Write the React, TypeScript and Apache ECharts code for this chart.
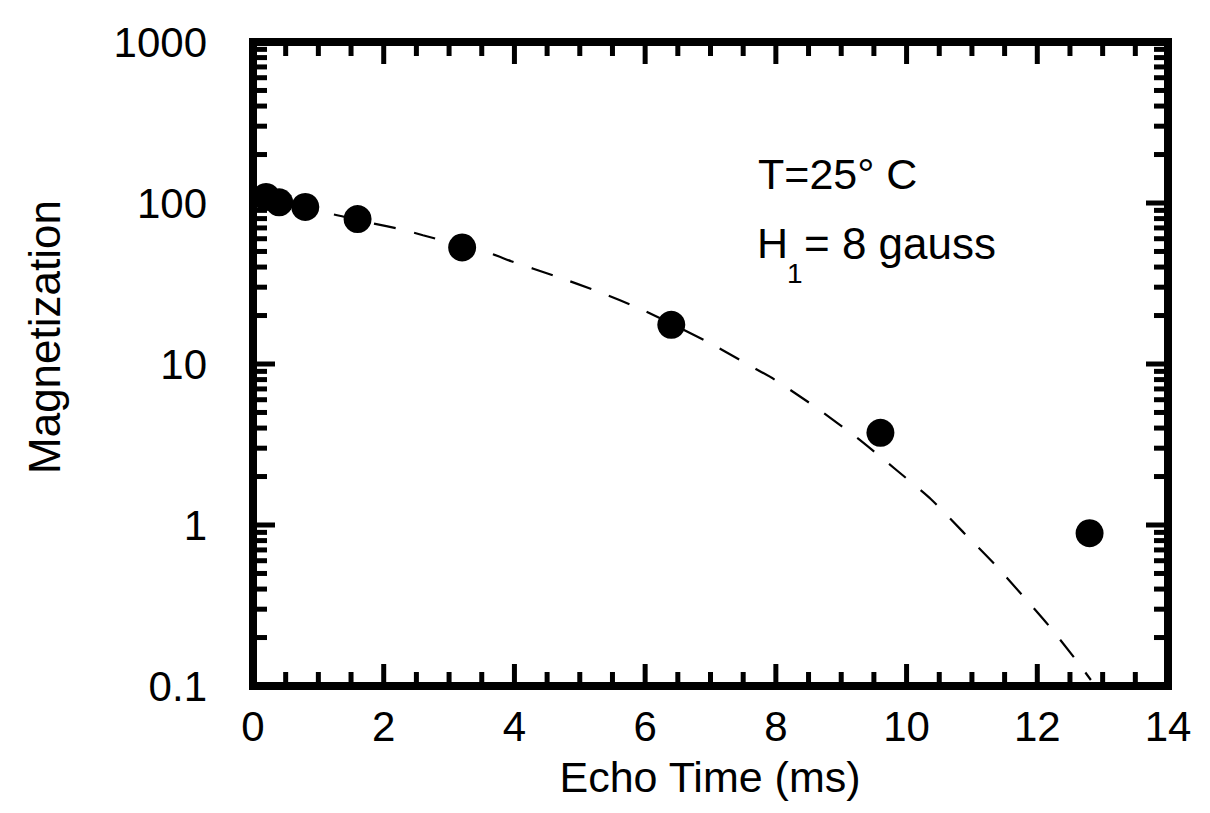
import React, { useEffect, useRef } from "react";
import * as echarts from "echarts";

// Measured spin-echo data
const echoTimes = [0.2, 0.4, 0.8, 1.6, 3.2, 6.4, 9.6, 12.8];
const magnetization = [109, 101, 94.5, 79.5, 53, 17.5, 3.74, 0.89];

// Dashed fit curve
const fitTimes = [0, 0.5, 1.01, 1.22, 1.82, 2.26, 2.6, 3.62, 3.95, 4.63, 5.27, 5.94, 6.93, 7.62, 7.97, 8.63, 9.25, 9.83, 10.37, 10.87, 11.33, 11.77, 12.18, 12.56, 12.82];
const fitValues = [100, 96, 87.5, 85.1, 74.9, 68.7, 63.1, 48.8, 43.5, 35.1, 28.3, 21.9, 13.9, 9.68, 8.05, 5.32, 3.46, 2.22, 1.45, 0.9, 0.58, 0.367, 0.236, 0.151, 0.109];

// Axes
const xMin = 0;
const xMax = 14;
const xInterval = 2;
const xMinorStep = 0.5;
const yMin = 0.1;
const yMax = 1000;
const yTickLabels = ["0.1", "1", "10", "100", "1000"];
const yDecades = [0.1, 1, 10, 100];
const yMinorMultipliers = [2, 3, 4, 5, 6, 7, 8, 9];

const xTitle = "Echo Time (ms)";
const yTitle = "Magnetization";
const noteTemp = "T=25° C";
const noteFieldMain = "H";
const noteFieldSub = "1";
const noteFieldRest = "= 8 gauss";

const FONT = "'Liberation Sans', Arial, Helvetica, sans-serif";

export default function App() {
  const ref = useRef<HTMLDivElement>(null);

  useEffect(() => {
    if (!ref.current) return;
    const chart = echarts.init(ref.current, null, { renderer: "svg" });

    const majorLen = 22;
    const minorLen = 14;
    const tickWidth = 5;

    // tick positions (value, isMajor)
    const xTickData: number[][] = [];
    const nX = Math.round((xMax - xMin) / xMinorStep);
    for (let i = 1; i < nX; i++) {
      const v = parseFloat((xMin + i * xMinorStep).toFixed(3));
      const major = Math.abs(v / xInterval - Math.round(v / xInterval)) < 1e-6 ? 1 : 0;
      xTickData.push([v, major]);
    }
    const yTickData: number[][] = [];
    yDecades.forEach((d, di) => {
      if (di > 0) yTickData.push([d, 1]);
      yMinorMultipliers.forEach((m) => yTickData.push([parseFloat((d * m).toPrecision(3)), 0]));
    });

    const labelFor = (v: number) => {
      let best = yTickLabels[0];
      let bd = Infinity;
      yTickLabels.forEach((s) => {
        const d = Math.abs(Math.log10(parseFloat(s)) - Math.log10(v));
        if (d < bd) {
          bd = d;
          best = s;
        }
      });
      return best;
    };

    const st = { stroke: "#000", lineWidth: tickWidth };

    const option: any = {
      animation: false,
      backgroundColor: "#fff",
      grid: {
        left: 253,
        right: 42,
        top: 42,
        bottom: 127,
        show: true,
        borderColor: "#000",
        borderWidth: 8,
        backgroundColor: "transparent",
      },
      xAxis: {
        type: "value",
        min: xMin,
        max: xMax,
        interval: xInterval,
        axisLine: { show: false },
        splitLine: { show: false },
        axisTick: { show: false },
        axisLabel: {
          show: true,
          color: "#000",
          fontFamily: FONT,
          fontSize: 42,
          margin: 19,
        },
      },
      yAxis: {
        type: "log",
        logBase: 10,
        min: yMin,
        max: yMax,
        axisLine: { show: false },
        splitLine: { show: false },
        axisTick: { show: false },
        axisLabel: {
          show: true,
          color: "#000",
          fontFamily: FONT,
          fontSize: 42,
          margin: 46,
          formatter: (v: number) => labelFor(v),
        },
      },
      graphic: [
        {
          type: "text",
          x: 44,
          y: 337,
          rotation: Math.PI / 2,
          style: {
            text: yTitle,
            font: `44px ${FONT}`,
            fill: "#000",
            align: "center",
            verticalAlign: "middle",
          },
        },
        {
          type: "text",
          x: 710,
          y: 777,
          style: {
            text: xTitle,
            font: `43px ${FONT}`,
            fill: "#000",
            align: "center",
            verticalAlign: "middle",
          },
        },
        {
          type: "text",
          x: 758,
          y: 174,
          style: { text: noteTemp, font: `43px ${FONT}`, fill: "#000", align: "left", verticalAlign: "middle" },
        },
        {
          type: "text",
          x: 757,
          y: 243,
          style: { text: noteFieldMain, font: `43px ${FONT}`, fill: "#000", align: "left", verticalAlign: "middle" },
        },
        {
          type: "text",
          x: 787,
          y: 273,
          style: { text: noteFieldSub, font: `28px ${FONT}`, fill: "#000", align: "left", verticalAlign: "middle" },
        },
        {
          type: "text",
          x: 804,
          y: 243,
          style: { text: noteFieldRest, font: `44px ${FONT}`, fill: "#000", align: "left", verticalAlign: "middle" },
        },
      ],
      series: [
        {
          type: "custom",
          silent: true,
          data: xTickData,
          renderItem: (params: any, api: any) => {
            const v = api.value(0);
            const len = api.value(1) ? majorLen : minorLen;
            const b = api.coord([v, yMin]);
            const t = api.coord([v, yMax]);
            return {
              type: "group",
              children: [
                { type: "line", shape: { x1: b[0], y1: b[1], x2: b[0], y2: b[1] - len }, style: st },
                { type: "line", shape: { x1: t[0], y1: t[1], x2: t[0], y2: t[1] + len }, style: st },
              ],
            };
          },
          encode: { x: 0 },
          z: 3,
        },
        {
          type: "custom",
          silent: true,
          data: yTickData.map((d) => [xMin, d[0], d[1]]),
          renderItem: (params: any, api: any) => {
            const v = api.value(1);
            const len = api.value(2) ? majorLen : minorLen;
            const l = api.coord([xMin, v]);
            const r = api.coord([xMax, v]);
            return {
              type: "group",
              children: [
                { type: "line", shape: { x1: l[0], y1: l[1], x2: l[0] + len, y2: l[1] }, style: st },
                { type: "line", shape: { x1: r[0], y1: r[1], x2: r[0] - len, y2: r[1] }, style: st },
              ],
            };
          },
          encode: { x: 0, y: 1 },
          z: 3,
        },
        {
          type: "line",
          silent: true,
          data: fitTimes.map((t, i) => [t, fitValues[i]]),
          showSymbol: false,
          smooth: 0.2,
          lineStyle: { color: "#000", width: 2.2, type: [22, 19] },
          z: 4,
        },
        {
          type: "scatter",
          silent: true,
          data: echoTimes.map((t, i) => [t, magnetization[i]]),
          symbol: "circle",
          symbolSize: 28,
          itemStyle: { color: "#000", opacity: 1 },
          z: 5,
        },
      ],
    };

    chart.setOption(option);
    return () => chart.dispose();
  }, []);

  return (
    <div
      ref={ref}
      style={{ position: "fixed", left: 0, top: 0, width: 1210, height: 813, background: "#fff" }}
    />
  );
}
